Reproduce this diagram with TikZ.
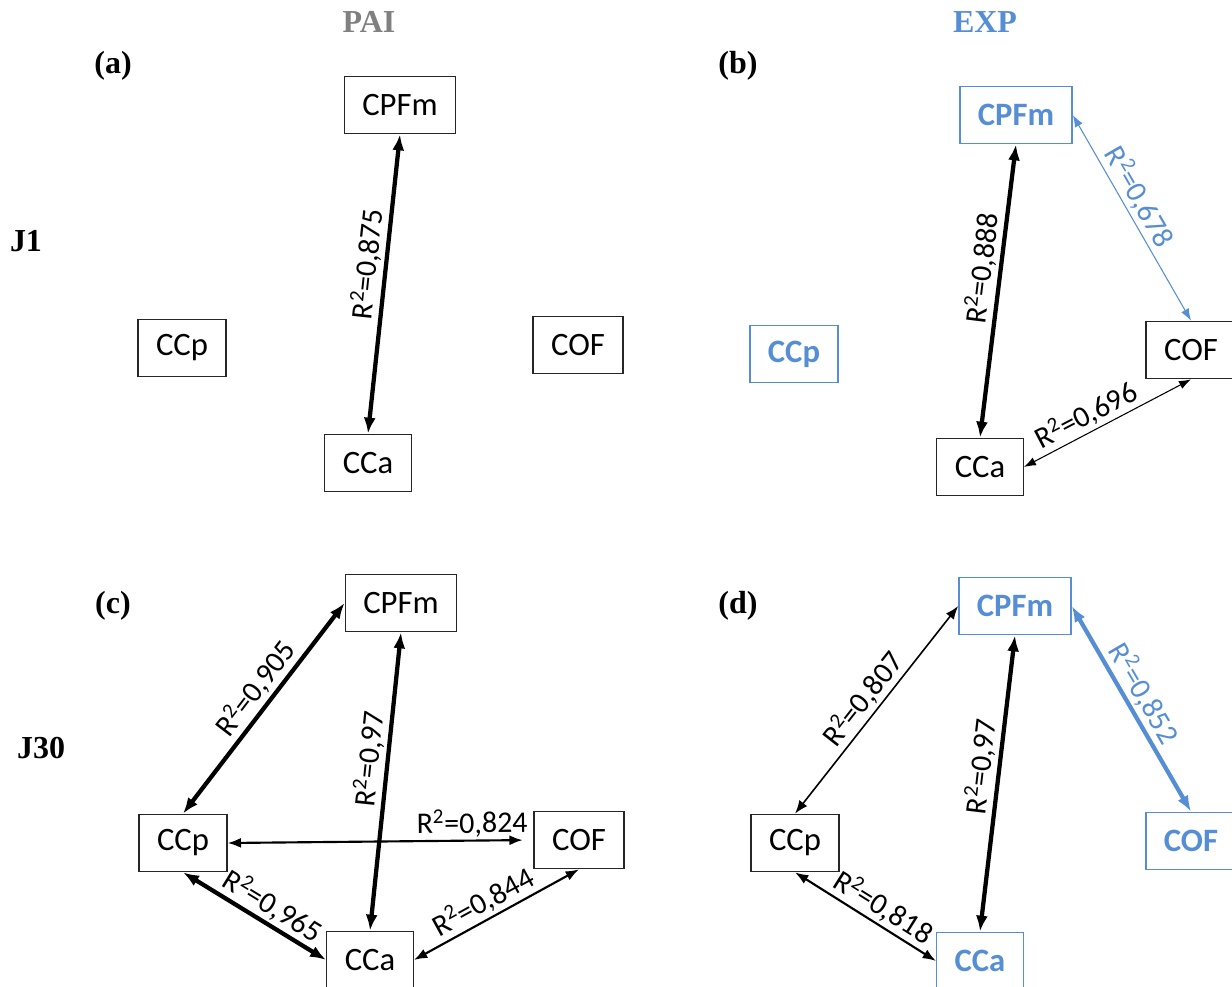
\documentclass[tikz,border=0pt]{standalone}
\usepackage{fontspec}
\setmainfont{Carlito}
\newfontfamily\headfont{Liberation Serif}
\usepackage{tikz}
\usetikzlibrary{arrows.meta}
\definecolor{expblue}{RGB}{85,142,213}
\definecolor{paigray}{RGB}{128,128,128}
\newcommand\rsq[1]{R\textsuperscript{2}=#1}
\tikzset{
  var/.style    ={draw=black!85,line width=1pt,minimum height=43pt,inner xsep=13.5pt,font=\fontsize{24.5}{28}\selectfont},
  varx/.style   ={var,draw=expblue,text=expblue,font=\fontsize{24.5}{28}\selectfont\bfseries},
  strong/.style ={{Latex[length=12pt,width=9pt]}-{Latex[length=12pt,width=9pt]},line width=3.2pt},
  mid/.style    ={{Latex[length=10pt,width=7.5pt]}-{Latex[length=10pt,width=7.5pt]},line width=1.6pt},
  weak/.style   ={{Latex[length=9pt,width=6.5pt]}-{Latex[length=9pt,width=6.5pt]},line width=0.8pt},
  lbl/.style    ={font=\fontsize{22.5}{26}\selectfont,sloped,above,inner sep=2pt},
  head/.style   ={font=\headfont\bfseries\fontsize{24}{28}\selectfont},
}
\begin{document}
\begin{tikzpicture}[x=0.75pt,y=-0.75pt]
  \useasboundingbox (0,0) rectangle (1232,987);
  % column and row titles
  \node[head,text=paigray] (tPAI) at (369,22) {PAI};
  \node[head,text=expblue] (tEXP) at (985,22) {EXP};
  \node[head] (tJ1)  at (26,241) {J1};
  \node[head] (tJ30) at (41,748) {J30};
  \node[head] (pa) at (113,66)  {(a)};
  \node[head] (pb) at (738,66)  {(b)};
  \node[head] (pc) at (113,606) {(c)};
  \node[head] (pd) at (738,606) {(d)};

  % (a) PAI, J1
  \node[var] (aCPFm) at (400,105) {CPFm};
  \node[var] (aCCp)  at (182,348) {CCp};
  \node[var] (aCOF)  at (578,345) {COF};
  \node[var] (aCCa)  at (368,463) {CCa};
  \draw[strong] (aCPFm.south) -- node[lbl,pos=0.44]{\rsq{0,875}} (aCCa.north);

  % (b) EXP, J1
  \node[varx] (bCPFm) at (1016,115) {CPFm};
  \node[varx] (bCCp)  at (794,354)  {CCp};
  \node[var]  (bCOF)  at (1191,350) {COF};
  \node[var]  (bCCa)  at (980,467)  {CCa};
  \draw[strong] (bCPFm.south) -- node[lbl,pos=0.43]{\rsq{0,888}} (bCCa.north);
  \draw[weak,expblue] (bCPFm.east) -- node[lbl,pos=0.44]{\rsq{0,678}} (bCOF.north);
  \draw[weak] (bCCa.east) -- node[lbl,pos=0.42]{\rsq{0,696}} (bCOF.south);

  % (c) PAI, J30
  \node[var] (cCPFm) at (401,603) {CPFm};
  \node[var] (cCCp)  at (183,843) {CCp};
  \node[var] (cCOF)  at (579,840) {COF};
  \node[var] (cCCa)  at (370,960) {CCa};
  \draw[strong] (cCCp.north) -- node[lbl,pos=0.54]{\rsq{0,905}} (cCPFm.west);
  \draw[strong] (cCPFm.south) -- node[lbl,pos=0.43]{\rsq{0,97}} (cCCa.north);
  \draw[mid,shorten >=8pt] (cCCp.east) -- node[lbl,pos=0.8]{\rsq{0,824}} (cCOF.west);
  \draw[strong] (cCCp.south) -- node[lbl,pos=0.56]{\rsq{0,965}} (cCCa.west);
  \draw[mid] (cCCa.east) -- node[lbl,pos=0.47]{\rsq{0,844}} (cCOF.south);

  % (d) EXP, J30
  \node[varx] (dCPFm) at (1015,606) {CPFm};
  \node[var]  (dCCp)  at (795,843)  {CCp};
  \node[varx] (dCOF)  at (1191,841) {COF};
  \node[varx] (dCCa)  at (980,961)  {CCa};
  \draw[mid,line width=1.2pt] (dCCp.north) -- node[lbl,pos=0.5]{\rsq{0,807}} (dCPFm.west);
  \draw[strong] (dCPFm.south) -- node[lbl,pos=0.45]{\rsq{0,97}} (dCCa.north);
  \draw[strong,expblue] (dCPFm.east) -- node[lbl,pos=0.47]{\rsq{0,852}} (dCOF.north);
  \draw[mid] (dCCp.south) -- node[lbl,pos=0.56]{\rsq{0,818}} (dCCa.west);
\end{tikzpicture}
\end{document}
